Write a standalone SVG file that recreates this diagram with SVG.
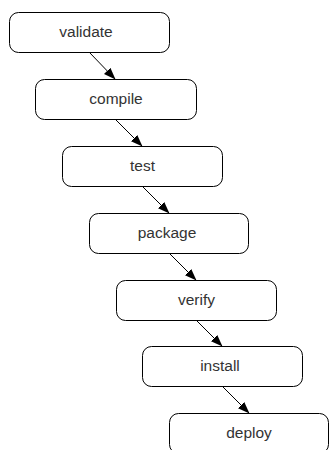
<svg xmlns="http://www.w3.org/2000/svg" width="329" height="450" viewBox="0 0 329 450">
  <style>
    .box { fill: #ffffff; stroke: #000000; stroke-width: 1; }
    .label { font-family: "Liberation Sans", Arial, sans-serif; font-size: 15.5px; fill: #333333; text-anchor: middle; }
    .edge { stroke: #000000; stroke-width: 1; fill: none; marker-end: url(#arrow); }
  </style>
  <defs>
    <marker id="arrow" markerWidth="12" markerHeight="10" refX="12" refY="5" orient="auto" markerUnits="userSpaceOnUse">
      <path d="M0,0.5 L12,5 L0,9.5 Z" fill="#000000"/>
    </marker>
  </defs>
  <rect width="329" height="450" fill="#ffffff"/>

  <g id="connectors">
    <line class="edge" x1="89.5" y1="52.5" x2="115.5" y2="79.5"/>
    <line class="edge" x1="115.5" y1="119.5" x2="142.5" y2="146.5"/>
    <line class="edge" x1="142.5" y1="186.5" x2="169.5" y2="213.5"/>
    <line class="edge" x1="169.5" y1="253.5" x2="196.5" y2="280.5"/>
    <line class="edge" x1="196.5" y1="320.5" x2="222.5" y2="346.5"/>
    <line class="edge" x1="222.5" y1="386.5" x2="249.5" y2="413.5"/>
  </g>

  <g id="validate">
    <rect class="box" x="9.5" y="12.5" width="160" height="40" rx="9"/>
    <text class="label" x="86" y="36.5">validate</text>
  </g>
  <g id="compile">
    <rect class="box" x="35.5" y="79.5" width="161" height="40" rx="9"/>
    <text class="label" x="116" y="103.5">compile</text>
  </g>
  <g id="test">
    <rect class="box" x="62.5" y="146.5" width="160" height="40" rx="9"/>
    <text class="label" x="142.5" y="170.5">test</text>
  </g>
  <g id="package">
    <rect class="box" x="89.5" y="213.5" width="159" height="40" rx="9"/>
    <text class="label" x="167" y="237.5">package</text>
  </g>
  <g id="verify">
    <rect class="box" x="116.5" y="280.5" width="160" height="40" rx="9"/>
    <text class="label" x="196.5" y="304.5">verify</text>
  </g>
  <g id="install">
    <rect class="box" x="142.5" y="346.5" width="160" height="40" rx="9"/>
    <text class="label" x="220" y="370.5">install</text>
  </g>
  <g id="deploy">
    <rect class="box" x="169.5" y="413.5" width="159" height="40" rx="9"/>
    <text class="label" x="249" y="437.5">deploy</text>
  </g>
</svg>
